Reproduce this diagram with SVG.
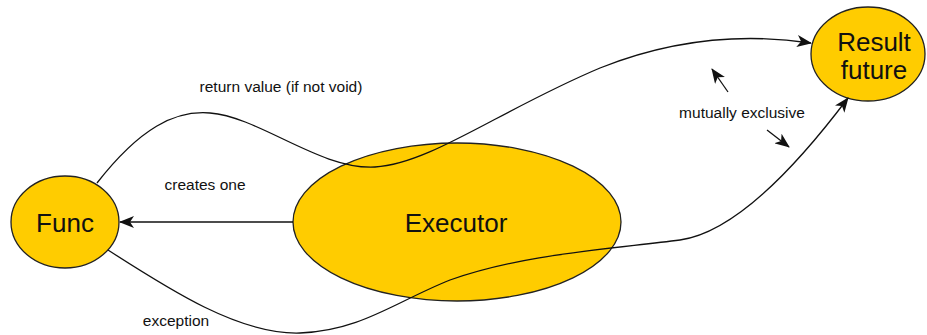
<svg xmlns="http://www.w3.org/2000/svg" width="927" height="335" viewBox="0 0 927 335">
<style>
.node{fill:#FFCC00;stroke:#222;stroke-width:1.3}
.big{font-family:"Liberation Sans",Arial,sans-serif;font-size:26px;fill:#111;text-anchor:middle}
.lbl{font-family:"Liberation Sans",Arial,sans-serif;font-size:15.5px;fill:#111;text-anchor:middle}
.edge{fill:none;stroke:#111;stroke-width:1.3}
</style>
<defs>
<marker id="arr" markerWidth="16" markerHeight="12" refX="14" refY="6" orient="auto" markerUnits="userSpaceOnUse">
<path d="M0,0 L15,6 L0,12 L4,6 Z" fill="#111"/>
</marker>
</defs>
<rect width="927" height="335" fill="#fff"/>
<g id="executor"><ellipse class="node" cx="457" cy="222" rx="164" ry="79"/><text class="big" x="456" y="232">Executor</text></g>
<g id="func"><ellipse class="node" cx="65" cy="222" rx="54" ry="46"/><text class="big" x="65" y="232">Func</text></g>
<g id="result"><ellipse class="node" cx="868" cy="54" rx="57" ry="47"/><text class="big" x="874" y="51">Result</text><text class="big" x="874" y="79">future</text></g>
<g id="connectors">
<path class="edge" d="M293 222 L120 222" marker-end="url(#arr)"/>
<path class="edge" d="M97 183 C140 128 175 110 210 113 C260 117 320 170 375 167 C430 164 500 110 600 68 C680 36 750 34 811 43" marker-end="url(#arr)"/>
<path class="edge" d="M108 250 C170 290 240 335 300 333 C360 331 395 302 450 280 C520 255 600 250 680 240 C730 233 790 175 848 98" marker-end="url(#arr)"/>
<path class="edge" d="M728 92 L712 69" marker-end="url(#arr)"/>
<path class="edge" d="M767 130 L789 147" marker-end="url(#arr)"/>
</g>
<g id="labels">
<text class="lbl" x="281" y="92">return value (if not void)</text>
<text class="lbl" x="205" y="190">creates one</text>
<text class="lbl" x="176" y="326">exception</text>
<text class="lbl" x="742" y="118">mutually exclusive</text>
</g>
</svg>
